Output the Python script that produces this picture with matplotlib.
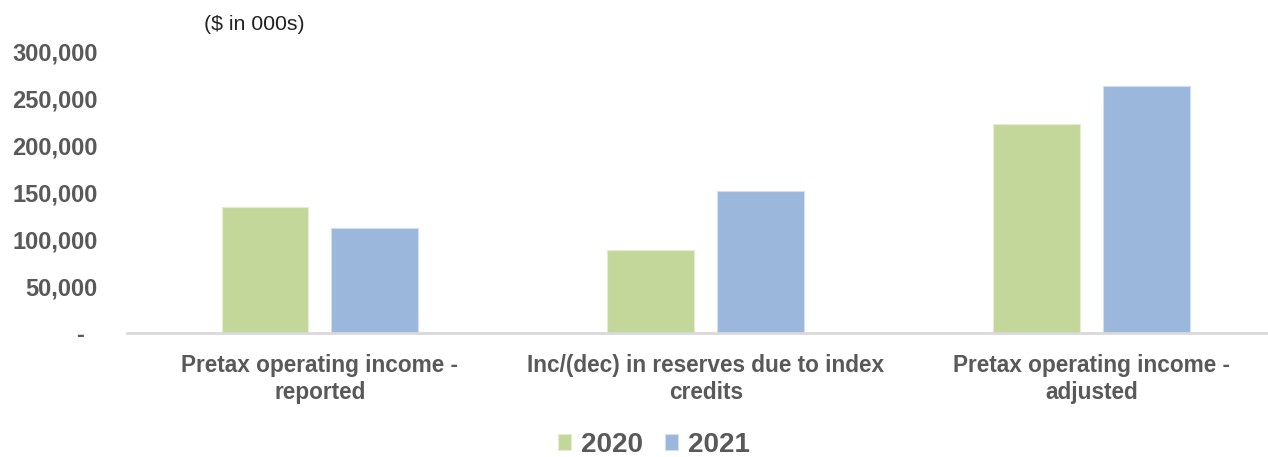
import matplotlib
matplotlib.use("Agg")
import matplotlib.pyplot as plt
import numpy as np

categories = ["Pretax operating income -\nreported",
              "Inc/(dec) in reserves due to index\ncredits",
              "Pretax operating income -\nadjusted"]
series_names = ["2020", "2021"]
values_2020 = [134500, 88500, 223000]
values_2021 = [112500, 151000, 263500]
yticks = [0, 50000, 100000, 150000, 200000, 250000, 300000]
ytick_labels = ["-  ", "50,000", "100,000", "150,000", "200,000", "250,000", "300,000"]

colors = ["#C4D79B", "#9BB7DB"]
text_color = "#595959"

plt.rcParams['font.family'] = ['Liberation Sans', 'DejaVu Sans']

W, H = 1268, 457
fig = plt.figure(figsize=(W / 100, H / 100), dpi=100)
ax = fig.add_axes([127 / W, 124 / H, (W - 127) / W, 281.3 / H])

x = np.arange(len(categories))
bw = 0.2248
off = 0.1422
ax.bar(x - off, values_2020, bw, color=colors[0], edgecolor="#E4EDCF", linewidth=0.8, label=series_names[0])
ax.bar(x + off, values_2021, bw, color=colors[1], edgecolor="#D3DFF0", linewidth=0.8, label=series_names[1])

ax.set_xlim(-0.5, (W - 320) / 385.7)
ax.set_ylim(0, 300000)
ax.set_yticks(yticks)
ax.set_yticklabels(ytick_labels, fontsize=17, fontweight="bold", color=text_color)
ax.set_xticks(x)
ax.set_xticklabels(categories, fontsize=16.3, fontweight="bold", color=text_color, linespacing=1.24)
ax.tick_params(axis="y", length=0, pad=21)
ax.tick_params(axis="x", length=0, pad=15)

for s in ["top", "right", "left"]:
    ax.spines[s].set_visible(False)
ax.spines["bottom"].set_color("#D9D9D9")
ax.spines["bottom"].set_linewidth(2)

fig.text(204 / W, 1 - 24 / H, "($ in 000s)", fontsize=15.3, color="#222222", va="center", ha="left")

leg = fig.legend(loc="center", bbox_to_anchor=(654 / W, 1 - 445 / H), ncol=2, frameon=False,
                 handlelength=0.47, handleheight=0.47, handletextpad=0.36, columnspacing=0.8,
                 prop={"size": 20, "weight": "bold"})
for t in leg.get_texts():
    t.set_color(text_color)

fig.savefig("out.png", dpi=100)
